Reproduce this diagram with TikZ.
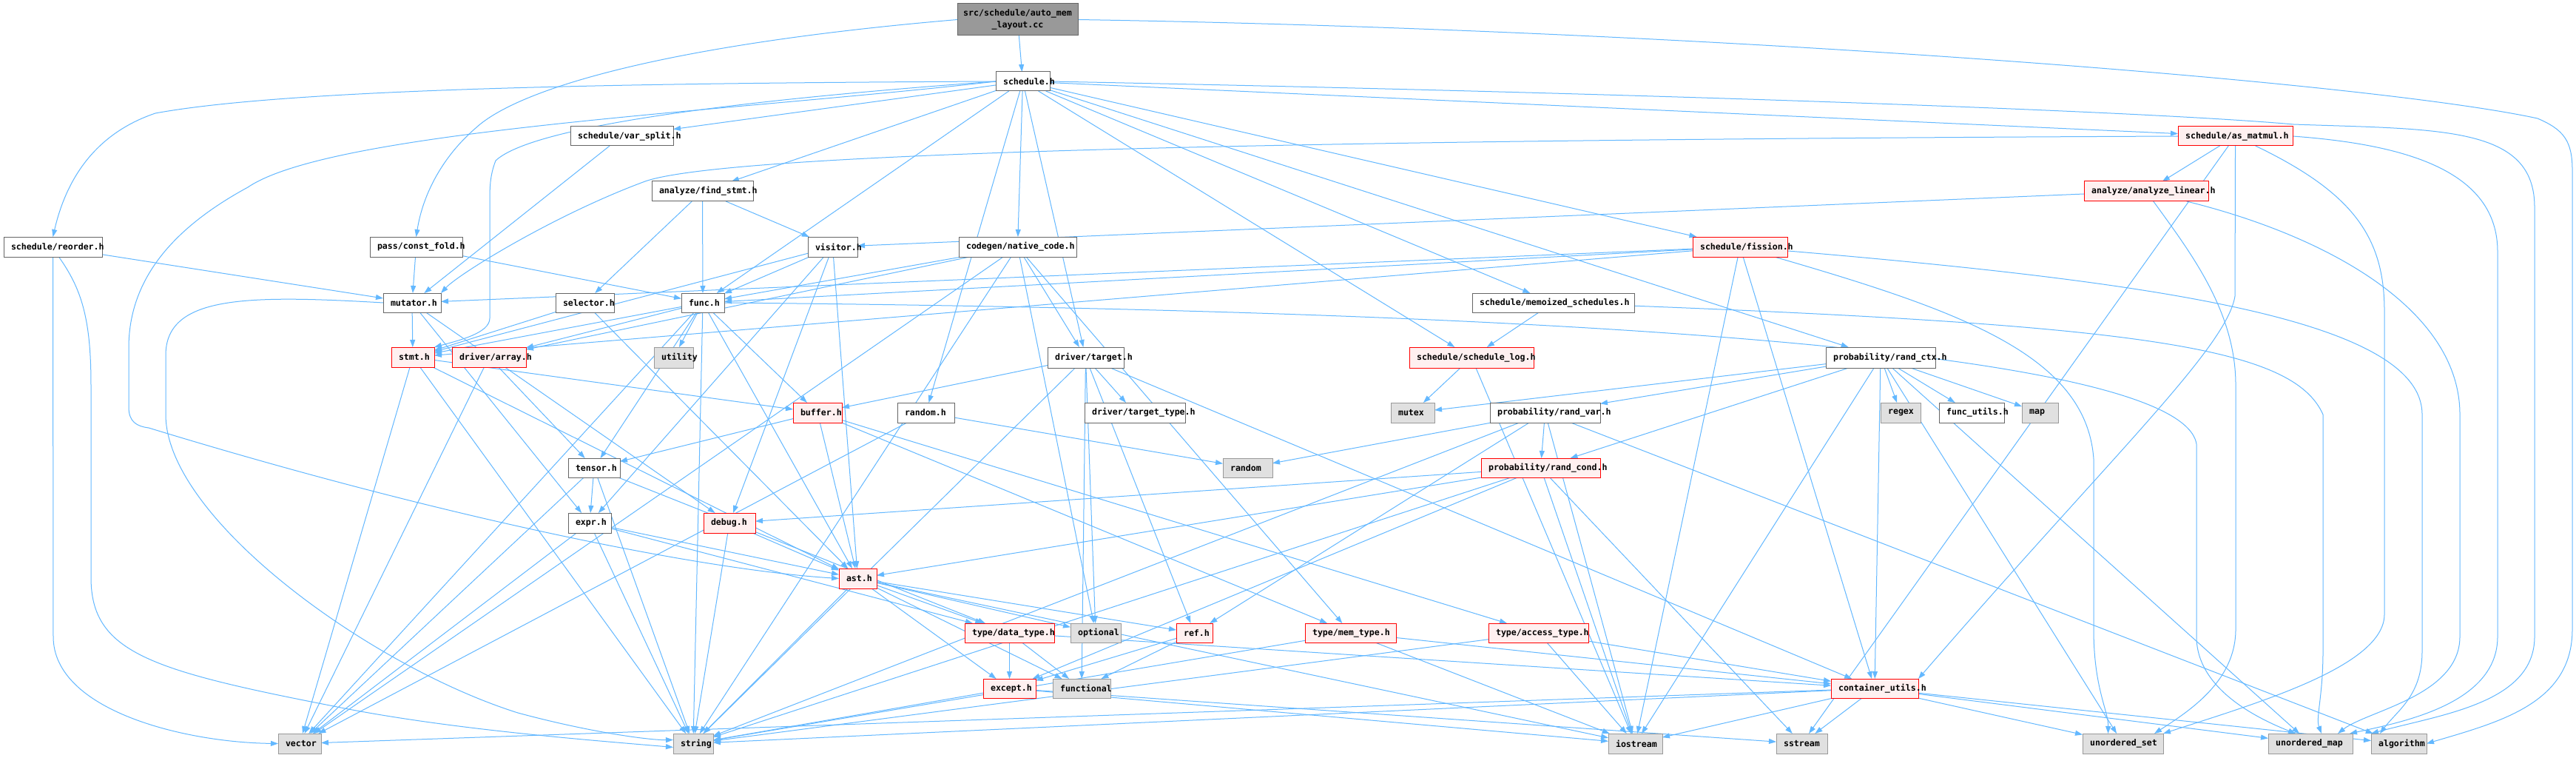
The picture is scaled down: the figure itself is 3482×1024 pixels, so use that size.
\documentclass[tikz,border=0pt]{standalone}
\usepackage{fontspec}
\setmonofont{DejaVu Sans Mono}
\usetikzlibrary{arrows.meta}
\definecolor{edgec}{HTML}{63B8FF}
\definecolor{bnorm}{HTML}{666666}
\definecolor{bred}{HTML}{FF0000}
\definecolor{fred}{HTML}{FFF0F0}
\definecolor{bsys}{HTML}{999999}
\definecolor{fsys}{HTML}{E0E0E0}
\definecolor{froot}{HTML}{999999}
\pgfdeclarelayer{bg}
\pgfsetlayers{bg,main}
\tikzset{
  base/.style={anchor=north west, inner xsep=10pt, inner ysep=0pt, outer sep=0pt, line width=1pt, align=left, text=black,
    font=\ttfamily\bfseries\fontsize{11.6pt}{13pt}\selectfont},
  norm/.style={base, draw=bnorm, fill=white},
  trunc/.style={base, draw=bred, fill=fred},
  sys/.style={base, draw=bsys, fill=fsys},
  lnk/.style={draw=edgec, line width=1pt, -{Triangle[length=10pt,width=7pt]}},
}
\newcommand\mk[7]{%
  \pgfmathsetmacro\mkw{#5-#3}%
  \pgfmathsetmacro\mkt{#5-#3-20}%
  \pgfmathsetmacro\mkh{#6-#4}%
  \node[#1,minimum width=\mkw pt,text width=\mkt pt,minimum height=\mkh pt] (#2) at (#3,#4) {\noindent\mbox{#7}};}
\newcommand\ed[2]{\draw[lnk] (#1) -- (#2);}
\begin{document}
\begin{tikzpicture}[x=1pt,y=-1pt]
\useasboundingbox (0,0) rectangle (3482,1024);
% ---------- nodes ----------
\node[base, draw=bnorm, fill=froot, align=center, inner xsep=4pt, text width=155pt, minimum width=163pt, minimum height=43pt,
  font=\ttfamily\bfseries\fontsize{11.6pt}{16pt}\selectfont] (root) at (1294,5) {src/schedule/auto\_mem\\\_layout.cc};
\mk{norm}{sched}{1346}{97}{1419}{123}{schedule.h}
\mk{norm}{varsplit}{771}{171}{910}{197}{schedule/var\_split.h}
\mk{trunc}{asmatmul}{2944}{171}{3099}{197}{schedule/as\_matmul.h}
\mk{norm}{findstmt}{881}{245}{1018}{272}{analyze/find\_stmt.h}
\mk{trunc}{linear}{2817}{245}{2985}{272}{analyze/analyze\_linear.h}
\mk{norm}{reorder}{5}{320}{138}{347}{schedule/reorder.h}
\mk{norm}{constfold}{500}{320}{625}{347}{pass/const\_fold.h}
\mk{norm}{visitor}{1092}{320}{1159}{347}{visitor.h}
\mk{norm}{native}{1296}{320}{1455}{347}{codegen/native\_code.h}
\mk{trunc}{fission}{2288}{320}{2416}{347}{schedule/fission.h}
\mk{norm}{mutator}{518}{396}{596}{422}{mutator.h}
\mk{norm}{selector}{751}{396}{830}{422}{selector.h}
\mk{norm}{func}{921}{396}{979}{422}{func.h}
\mk{norm}{memo}{1990}{396}{2209}{422}{schedule/memoized\_schedules.h}
\mk{trunc}{stmt}{529}{469}{587}{496}{stmt.h}
\mk{trunc}{array}{611}{469}{711}{496}{driver/array.h}
\mk{sys}{utility}{884}{469}{937}{497}{utility}
\mk{norm}{target}{1416}{469}{1519}{497}{driver/target.h}
\mk{trunc}{schedlog}{1905}{469}{2073}{497}{schedule/schedule\_log.h}
\mk{norm}{randctx}{2468}{469}{2616}{497}{probability/rand\_ctx.h}
\mk{trunc}{buffer}{1072}{544}{1138}{571}{buffer.h}
\mk{norm}{randomh}{1213}{544}{1290}{571}{random.h}
\mk{norm}{targettype}{1466}{544}{1602}{571}{driver/target\_type.h}
\mk{sys}{mutex}{1880}{544}{1939}{571}{mutex}
\mk{norm}{randvar}{2014}{544}{2163}{571}{probability/rand\_var.h}
\mk{sys}{regex}{2542}{544}{2596}{571}{regex}
\mk{norm}{funcutils}{2621}{544}{2709}{571}{func\_utils.h}
\mk{sys}{map}{2733}{544}{2782}{571}{map}
\mk{norm}{tensor}{768}{619}{838}{645}{tensor.h}
\mk{sys}{random}{1653}{619}{1720}{645}{random}
\mk{trunc}{randcond}{2002}{619}{2163}{645}{probability/rand\_cond.h}
\mk{norm}{expr}{768}{693}{826}{720}{expr.h}
\mk{trunc}{debug}{951}{693}{1021}{720}{debug.h}
\mk{trunc}{ast}{1134}{768}{1185}{795}{ast.h}
\mk{trunc}{datatype}{1304}{842}{1425}{868}{type/data\_type.h}
\mk{sys}{optional}{1447}{842}{1515}{868}{optional}
\mk{trunc}{ref}{1590}{842}{1639}{868}{ref.h}
\mk{trunc}{memtype}{1764}{842}{1887}{868}{type/mem\_type.h}
\mk{trunc}{accesstype}{2012}{842}{2147}{868}{type/access\_type.h}
\mk{trunc}{except}{1329}{917}{1400}{943}{except.h}
\mk{sys}{functional}{1423}{917}{1501}{943}{functional}
\mk{trunc}{contutils}{2475}{917}{2593}{943}{container\_utils.h}
\mk{sys}{string}{910}{991}{964}{1018}{string}
\mk{sys}{vector}{376}{991}{434}{1018}{vector}
\mk{sys}{iostream}{2174}{991}{2247}{1018}{iostream}
\mk{sys}{sstream}{2401}{991}{2470}{1018}{sstream}
\mk{sys}{uset}{2815}{991}{2924}{1018}{unordered\_set}
\mk{sys}{umap}{3066}{991}{3180}{1018}{unordered\_map}
\mk{sys}{algorithm}{3205}{991}{3280}{1018}{algorithm}
% ---------- edges ----------
\begin{pgfonlayer}{bg}
\fill[white] (0,0) rectangle (3482,1024);
\ed{root}{sched}
\draw[lnk] (root.west) .. controls (900,60) and (700,120) .. (643,173) .. controls (600,210) and (572,260) .. (constfold.north);
\draw[lnk] (root.east) .. controls (2300,40) and (3200,110) .. (3430,160) .. controls (3465,175) and (3477,190) .. (3477,230) -- (3477,850) .. controls (3477,950) and (3380,975) .. (algorithm.east);
% schedule.h
\ed{sched}{varsplit}\ed{sched}{findstmt}\ed{sched}{native}\ed{sched}{func}\ed{sched}{randomh}
\ed{sched}{target}\ed{sched}{memo}\ed{sched}{schedlog}\ed{sched}{fission}\ed{sched}{asmatmul}\ed{sched}{randctx}
\draw[lnk] (sched.west) .. controls (900,112) and (400,118) .. (210,153) .. controls (130,180) and (90,240) .. (reorder.north);
\draw[lnk] (sched.west) .. controls (1000,135) and (720,170) .. (670,217) .. controls (663,235) and (662,250) .. (662,270) -- (662,430) .. controls (662,450) and (620,460) .. (stmt.north east);
\draw[lnk] (sched.west) .. controls (1000,150) and (450,175) .. (335,253) .. controls (230,310) and (174,380) .. (174,470) -- (174,550) .. controls (174,570) and (185,576) .. (201,578) .. controls (600,700) and (950,770) .. (ast.west);
\draw[lnk] (sched.east) .. controls (2200,125) and (2900,150) .. (3100,168) .. controls (3300,175) and (3426,170) .. (3426,280) -- (3426,860) .. controls (3426,950) and (3300,965) .. (algorithm.north west);
% level 2-4
\ed{varsplit}{mutator}
\ed{reorder}{mutator}
\draw[lnk] (reorder.south) -- (72,860) .. controls (72,960) and (250,1003) .. (vector.west);
\draw[lnk] ([xshift=8pt]reorder.south) .. controls (110,390) and (123,430) .. (123,520) -- (123,780) .. controls (123,880) and (200,905) .. (446,953) .. controls (600,985) and (800,1000) .. ([yshift=-5pt]string.west);
\ed{constfold}{mutator}\ed{constfold}{func}
\ed{findstmt}{selector}\ed{findstmt}{func}\ed{findstmt}{visitor}
\ed{linear}{visitor}
\draw[lnk] (linear) .. controls (2960,340) and (3022,420) .. (3022,520) -- (3022,850) .. controls (3022,920) and (2960,960) .. ([xshift=-12pt]uset.north east);
\draw[lnk] (linear) .. controls (3150,320) and (3325,420) .. (3325,560) -- (3325,860) .. controls (3325,940) and (3200,960) .. ([xshift=-20pt]umap.north east);
\ed{asmatmul}{linear}\ed{asmatmul}{sstream}
\draw[lnk] (asmatmul.west) .. controls (2000,188) and (1000,200) .. (872,245) .. controls (750,290) and (620,370) .. (mutator.north east);
\draw[lnk] (asmatmul.south) -- (3021,400) .. controls (3010,470) and (2850,620) .. (contutils.north east);
\draw[lnk] (asmatmul) .. controls (3180,260) and (3223,320) .. (3223,420) -- (3223,830) .. controls (3223,900) and (3050,950) .. (uset.north east);
\draw[lnk] (asmatmul.east) .. controls (3250,195) and (3376,230) .. (3376,340) -- (3376,860) .. controls (3376,950) and (3250,975) .. ([xshift=-4pt]umap.north east);
\ed{visitor}{func}\ed{visitor}{stmt}\ed{visitor}{expr}\ed{visitor}{ast}\ed{visitor}{debug}
\ed{native}{func}\ed{native}{target}\ed{native}{memtype}\ed{native}{optional}\ed{native}{array}\ed{native}{string}\ed{native}{vector}
\ed{fission}{mutator}\ed{fission}{func}\ed{fission}{stmt}\ed{fission}{contutils}\ed{fission}{iostream}
\draw[lnk] (fission) .. controls (2900,380) and (3274,430) .. (3274,560) -- (3274,880) .. controls (3274,940) and (3240,960) .. ([xshift=12pt]algorithm.north west);
\draw[lnk] (fission) .. controls (2650,420) and (2820,480) .. (2830,620) -- (2830,850) .. controls (2830,930) and (2850,960) .. ([xshift=-20pt]uset.north);
% level 5
\ed{selector}{stmt}\ed{selector}{ast}
\ed{func}{stmt}\ed{func}{array}\ed{func}{utility}\ed{func}{buffer}\ed{func}{tensor}\ed{func}{ast}\ed{func}{string}\ed{func}{vector}
\draw[lnk] (func.east) .. controls (2200,420) and (2950,480) .. (2969,600) -- (2969,860) .. controls (2969,930) and (3050,970) .. ([xshift=-20pt]umap.north);
\ed{memo}{schedlog}
\draw[lnk] (memo) .. controls (2900,440) and (3100,470) .. (3140,560) -- (3140,880) .. controls (3140,940) and (3130,970) .. ([xshift=15pt]umap.north);
\ed{mutator}{stmt}\ed{mutator}{expr}\ed{mutator}{debug}
\draw[lnk] (mutator.west) .. controls (330,398) and (224,400) .. (224,480) -- (224,560) .. controls (224,700) and (500,900) .. (700,963) .. controls (800,990) and (880,1000) .. ([yshift=5pt]string.west);
% level 6
\ed{schedlog}{mutex}\ed{schedlog}{iostream}
\ed{randctx}{randvar}\ed{randctx}{randcond}\ed{randctx}{regex}\ed{randctx}{funcutils}\ed{randctx}{map}
\ed{randctx}{mutex}\ed{randctx}{contutils}\ed{randctx}{iostream}\ed{randctx}{uset}\ed{randctx}{umap}
\ed{stmt}{buffer}\ed{stmt}{ast}\ed{stmt}{string}\ed{stmt}{vector}
\ed{array}{tensor}\ed{array}{vector}
\ed{target}{buffer}\ed{target}{targettype}\ed{target}{ref}\ed{target}{functional}\ed{target}{string}\ed{target}{contutils}\ed{target}{optional}
% level 7
\ed{buffer}{tensor}\ed{buffer}{ast}\ed{buffer}{memtype}\ed{buffer}{accesstype}
\ed{randomh}{random}\ed{randomh}{vector}
\ed{randvar}{randcond}\ed{randvar}{random}\ed{randvar}{ref}\ed{randvar}{string}\ed{randvar}{iostream}\ed{randvar}{algorithm}
% level 8-10
\ed{tensor}{expr}\ed{tensor}{datatype}\ed{tensor}{vector}\ed{tensor}{string}
\ed{randcond}{debug}\ed{randcond}{ast}\ed{randcond}{except}\ed{randcond}{string}\ed{randcond}{iostream}\ed{randcond}{sstream}
\ed{expr}{ast}\ed{expr}{datatype}\ed{expr}{string}\ed{expr}{vector}
\ed{debug}{ast}\ed{debug}{string}
\ed{ast}{datatype}\ed{ast}{optional}\ed{ast}{ref}\ed{ast}{except}\ed{ast}{functional}\ed{ast}{string}\ed{ast}{iostream}
% level 11-12
\ed{datatype}{except}\ed{datatype}{functional}\ed{datatype}{contutils}
\ed{ref}{except}\ed{ref}{functional}
\ed{memtype}{contutils}\ed{memtype}{string}\ed{memtype}{iostream}
\ed{accesstype}{contutils}\ed{accesstype}{iostream}\ed{accesstype}{string}
\ed{except}{string}\ed{except}{iostream}\ed{except}{sstream}
\ed{contutils}{iostream}\ed{contutils}{sstream}\ed{contutils}{string}\ed{contutils}{vector}\ed{contutils}{uset}\ed{contutils}{umap}\ed{contutils}{algorithm}
\end{pgfonlayer}
\end{tikzpicture}
\end{document}
